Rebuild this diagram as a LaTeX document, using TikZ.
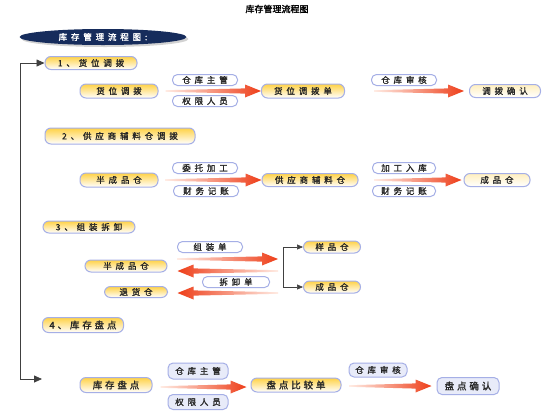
\documentclass[tikz,border=0pt]{standalone}
\usepackage{fontspec}
\setmainfont{Noto Sans CJK SC}
\newfontfamily\cjkwide{Noto Sans CJK SC}[LetterSpace=45,FakeBold=1.5]
\newfontfamily\cjkmid{Noto Sans CJK SC}[LetterSpace=30,FakeBold=1.5]
\newfontfamily\cjkbold{Noto Sans CJK SC}[FakeBold=2]
\usetikzlibrary{arrows.meta}
\usetikzlibrary{calc}
\usetikzlibrary{shadows}
\usetikzlibrary{shapes.geometric}

\definecolor{pillblue}{RGB}{165,175,230}
\definecolor{pillyellow}{RGB}{255,210,70}
\definecolor{arrowred}{RGB}{238,62,25}
\definecolor{arrowpale}{RGB}{255,236,228}
\definecolor{navy}{RGB}{22,44,92}
\definecolor{navylight}{RGB}{95,125,180}

\newcommand\fatarrow[3][left color=arrowpale,right color=arrowred]{%
  \path (#2) coordinate (fa_a) (#3) coordinate (fa_b);
  \path ($(fa_b)!16pt!(fa_a)$) coordinate (fa_c);
  \shade[#1] ($(fa_a)+(0,-0.8)$) -- ($(fa_c)+(0,-2.6)$) -- ($(fa_c)+(0,-6.5)$) -- (fa_b)
    -- ($(fa_c)+(0,6.5)$) -- ($(fa_c)+(0,2.6)$) -- ($(fa_a)+(0,0.8)$) -- cycle;}

\begin{document}
\begin{tikzpicture}[x=1pt,y=-1pt,
    every node/.style={font=\cjkwide\fontsize{8.5}{9}\selectfont,text=black!85,inner sep=0pt},
    box/.style={draw=pillblue,line width=1pt,rounded corners=6pt,top color=pillyellow,middle color=white,bottom color=white,minimum height=14pt},
    endbox/.style={box,top color=pillyellow!35},
    tag/.style={draw=pillblue,line width=1pt,rounded corners=5pt,fill=white,minimum width=65pt,minimum height=11pt},
    tagblue/.style={tag,fill=pillblue!25},
    banner/.style={ellipse,minimum width=167pt,minimum height=16pt,top color=navy,middle color=navylight,bottom color=navy,text=white,drop shadow={opacity=0.35,shadow xshift=2pt,shadow yshift=-2pt}},
    sideline/.style={draw=black!75,line width=0.8pt},
    brarrow/.style={draw,black!75,line width=0.6pt,-{Triangle[length=6pt,width=5pt]}},
    bigfont/.style={font=\cjkmid\fontsize{9.5}{10}\selectfont}]

  \fill [white] (0,0) rectangle (554,416);
  \useasboundingbox (0,0) rectangle (554,416);

  \node [font=\cjkbold\fontsize{9}{9}\selectfont,text=black] (title) at (277,9) {库存管理流程图};
  \node [banner] (banner) at (103,37) {库存管理流程图:};

  \node [box,minimum width=92pt,minimum height=13pt] (h1) at (91,63) {1、货位调拨};
  \node [box,minimum width=150pt,minimum height=16pt] (h2) at (120,136) {2、供应商辅料仓调拨};
  \node [box,minimum width=92pt,minimum height=12pt] (h3) at (89,227) {3、组装拆卸};
  \node [box,bigfont,minimum width=81pt,minimum height=15pt] (h4) at (83,325) {4、库存盘点};

  \coordinate (side_bot) at (20,379);
  \coordinate (side_end) at (42,379);
  \path [sideline,{Triangle[length=8pt,width=7pt]}-{Triangle[length=8pt,width=7pt]}]
    (h1.west) -| (side_bot) -- (side_end);

  \node [box,minimum width=78pt] (mv) at (119,91) {货位调拨};
  \node [tag] (mv_mgr) at (205,80) {仓库主管};
  \node [tag] (mv_auth) at (205,101) {权限人员};
  \node [box,minimum width=83pt] (mv_form) at (303,91) {货位调拨单};
  \node [tag] (mv_chk) at (404,80) {仓库审核};
  \node [endbox,minimum width=71pt,minimum height=13pt] (mv_ok) at (505,91) {调拨确认};

  \fatarrow{$(mv.east)+(7,0)$}{mv_form.west}
  \fatarrow{$(mv_form.east)+(29,0)$}{$(mv_ok.west)+(-5,0)$}

  \node [box,minimum width=78pt] (semi) at (119,180) {半成品仓};
  \node [tag] (semi_out) at (205,168) {委托加工};
  \node [tag] (semi_acct) at (206,191) {财务记账};
  \node [box,minimum width=96pt,minimum height=13pt] (supp) at (310,180) {供应商辅料仓};
  \node [tag,minimum width=63pt] (supp_in) at (404,168) {加工入库};
  \node [tag,minimum width=63pt] (supp_acct) at (404,191) {财务记账};
  \node [endbox,minimum width=66pt,minimum height=13pt] (fin) at (497,180) {成品仓};

  \fatarrow{$(semi.east)+(7,0)$}{supp.west}
  \fatarrow{$(supp.east)+(16,0)$}{$(fin.west)+(-2,0)$}

  \node [box,minimum width=82pt,minimum height=12pt] (asm) at (126,266) {半成品仓};
  \node [tag] (asm_in) at (210,247) {组装单};
  \node [tag,minimum width=67pt] (asm_out) at (236,282) {拆卸单};
  \node [box,minimum width=63pt,minimum height=11pt] (ret) at (136,292) {退货仓};
  \node [box,minimum width=57pt,minimum height=12pt] (sample) at (332,247) {样品仓};
  \node [box,minimum width=57pt,minimum height=12pt] (prod) at (332,287) {成品仓};

  \coordinate (asm_r1) at (278,259);
  \coordinate (asm_r2) at (278,271);
  \coordinate (asm_r3) at (278,293);
  \fatarrow{$(asm.east)+(10,-7)$}{asm_r1}
  \fatarrow[left color=arrowred,right color=arrowpale]{asm_r2}{$(asm.east)+(10,5)$}
  \fatarrow[left color=arrowred,right color=arrowpale]{asm_r3}{$(ret.east)+(9.5,1)$}

  \path (sample.west) ++(-20,0) coordinate (br_top);
  \path (prod.west) ++(-20,0) coordinate (br_bot);
  \draw [black!75,line width=0.6pt] (br_top) -- (br_bot);
  \path
    (br_top) edge [brarrow] (sample.west)
    (br_bot) edge [brarrow] (prod.west);

  \node [box,bigfont,minimum width=72pt,minimum height=15pt] (cnt) at (116,385) {库存盘点};
  \node [tagblue,minimum width=60pt,minimum height=16pt] (cnt_mgr) at (198,371) {仓库主管};
  \node [tagblue,minimum width=60pt,minimum height=15pt] (cnt_auth) at (198,402) {权限人员};
  \node [box,bigfont,minimum width=90pt] (cnt_form) at (296,385) {盘点比较单};
  \node [tagblue,minimum width=58pt,minimum height=14pt] (cnt_chk) at (378,370) {仓库审核};
  \node [tagblue,bigfont,minimum width=62pt,minimum height=17pt] (cnt_ok) at (468,386) {盘点确认};

  \fatarrow{$(cnt.east)+(8,2)$}{$(cnt_form.west)+(-4,2)$}
  \fatarrow{$(cnt_form.east)+(8,1)$}{$(cnt_ok.west)+(-5,0)$}

\end{tikzpicture}
\end{document}
